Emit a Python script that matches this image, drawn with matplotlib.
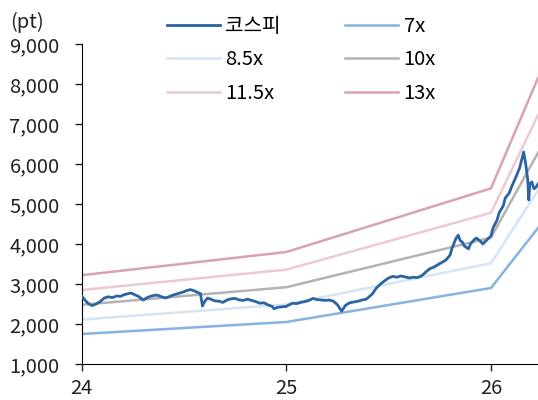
import matplotlib.pyplot as plt

plt.rcParams['font.family'] = ['Noto Sans CJK KR', 'DejaVu Sans']

# band nodes (decimal year, 2-digit)
band_x = [24, 25, 26, 26.23]
band_7 = [1750, 2050, 2900, 4400]
band_85 = [2110, 2490, 3520, 5340]
band_10 = [2480, 2920, 4160, 6280]
band_115 = [2850, 3360, 4780, 7220]
band_13 = [3220, 3800, 5390, 8150]

kospi_x = [24.00, 24.015, 24.03, 24.05, 24.07, 24.09, 24.11, 24.13, 24.15, 24.17,
           24.19, 24.20, 24.22, 24.24, 24.26, 24.28, 24.30, 24.32, 24.34, 24.36,
           24.37, 24.39, 24.41, 24.43, 24.45, 24.47, 24.49, 24.51, 24.53, 24.55,
           24.57, 24.58, 24.59, 24.60, 24.615, 24.63, 24.65, 24.67, 24.69, 24.71,
           24.73, 24.75, 24.77, 24.79, 24.81, 24.83, 24.85, 24.87, 24.89, 24.91,
           24.93, 24.94, 24.96, 24.98, 25.00, 25.01, 25.03, 25.05, 25.07, 25.09,
           25.11, 25.13, 25.15, 25.17, 25.19, 25.21, 25.23, 25.25, 25.27, 25.29,
           25.31, 25.33, 25.35, 25.37, 25.39, 25.40, 25.42, 25.44, 25.46, 25.48,
           25.50, 25.52, 25.54, 25.56, 25.58, 25.60, 25.62, 25.64, 25.66, 25.68,
           25.70, 25.72, 25.74, 25.76, 25.78, 25.80, 25.81, 25.83, 25.84, 25.85,
           25.86, 25.87, 25.89, 25.90, 25.92, 25.93, 25.95, 25.96, 25.98, 25.99,
           26.00, 26.01, 26.03, 26.04, 26.06, 26.07, 26.09, 26.10, 26.12, 26.14,
           26.15, 26.16, 26.17, 26.18, 26.185, 26.19, 26.20, 26.21, 26.22, 26.23]
kospi_y = [2700, 2600, 2520, 2460, 2500, 2560, 2650, 2680, 2660, 2700,
           2690, 2720, 2750, 2775, 2730, 2680, 2600, 2660, 2700, 2720,
           2720, 2680, 2650, 2690, 2730, 2760, 2790, 2830, 2860, 2830,
           2780, 2760, 2450, 2560, 2650, 2620, 2580, 2570, 2540, 2600,
           2630, 2640, 2600, 2590, 2620, 2590, 2560, 2520, 2530, 2480,
           2440, 2380, 2420, 2430, 2440, 2470, 2520, 2510, 2540, 2560,
           2590, 2640, 2610, 2600, 2590, 2600, 2570, 2480, 2320, 2470,
           2530, 2550, 2570, 2600, 2620, 2660, 2750, 2900, 3000, 3080,
           3150, 3190, 3170, 3200, 3180, 3150, 3170, 3160, 3200, 3290,
           3380, 3420, 3480, 3540, 3600, 3720, 3900, 4150, 4220, 4080,
           4050, 3950, 3880, 4000, 4120, 4150, 4060, 4000, 4100, 4150,
           4200, 4400, 4600, 4780, 4950, 5150, 5280, 5420, 5650, 5900,
           6100, 6300, 6000, 5600, 5100, 5500, 5550, 5380, 5420, 5500]

fig = plt.figure(figsize=(5.38, 4.0), dpi=100)
ax = fig.add_axes([0.152, 0.09, 0.848, 0.80])

ax.plot(band_x, band_7, color='#86b4e0', lw=1.8, label='7x')
ax.plot(band_x, band_85, color='#d5e5f5', lw=1.8, label='8.5x')
ax.plot(band_x, band_10, color='#b3b3b3', lw=1.8, label='10x')
ax.plot(band_x, band_115, color='#ecc9d3', lw=1.8, label='11.5x')
ax.plot(band_x, band_13, color='#d8a2b4', lw=1.8, label='13x')
ax.plot(kospi_x, kospi_y, color='#2a64a3', lw=2.0, label='코스피', zorder=5)

ax.set_xlim(24, 26.23)
ax.set_ylim(1000, 9000)
ax.set_xticks([24, 25, 26])
ax.set_xticklabels(['24', '25', '26'])
ax.set_yticks(range(1000, 9001, 1000))
ax.set_yticklabels([f'{v:,}' for v in range(1000, 9001, 1000)])
ax.tick_params(labelsize=14.5, colors='#222222', length=5, width=1)
ax.tick_params(axis='y', pad=11)
ax.tick_params(axis='x', pad=5)
ax.spines['top'].set_visible(False)
ax.spines['right'].set_visible(False)

fig.text(0.018, 0.93, '(pt)', fontsize=14.5, color='#222222')

h, l = ax.get_legend_handles_labels()
order = [5, 1, 3, 0, 2, 4]
fig.legend([h[i] for i in order], [l[i] for i in order], ncol=2, frameon=False,
           loc='upper left', bbox_to_anchor=(0.310, 0.96), fontsize=14.5,
           handlelength=2.65, labelspacing=0.62, columnspacing=3.2,
           handletextpad=0.25, borderpad=0, borderaxespad=0)

plt.savefig('out.png', dpi=100)
